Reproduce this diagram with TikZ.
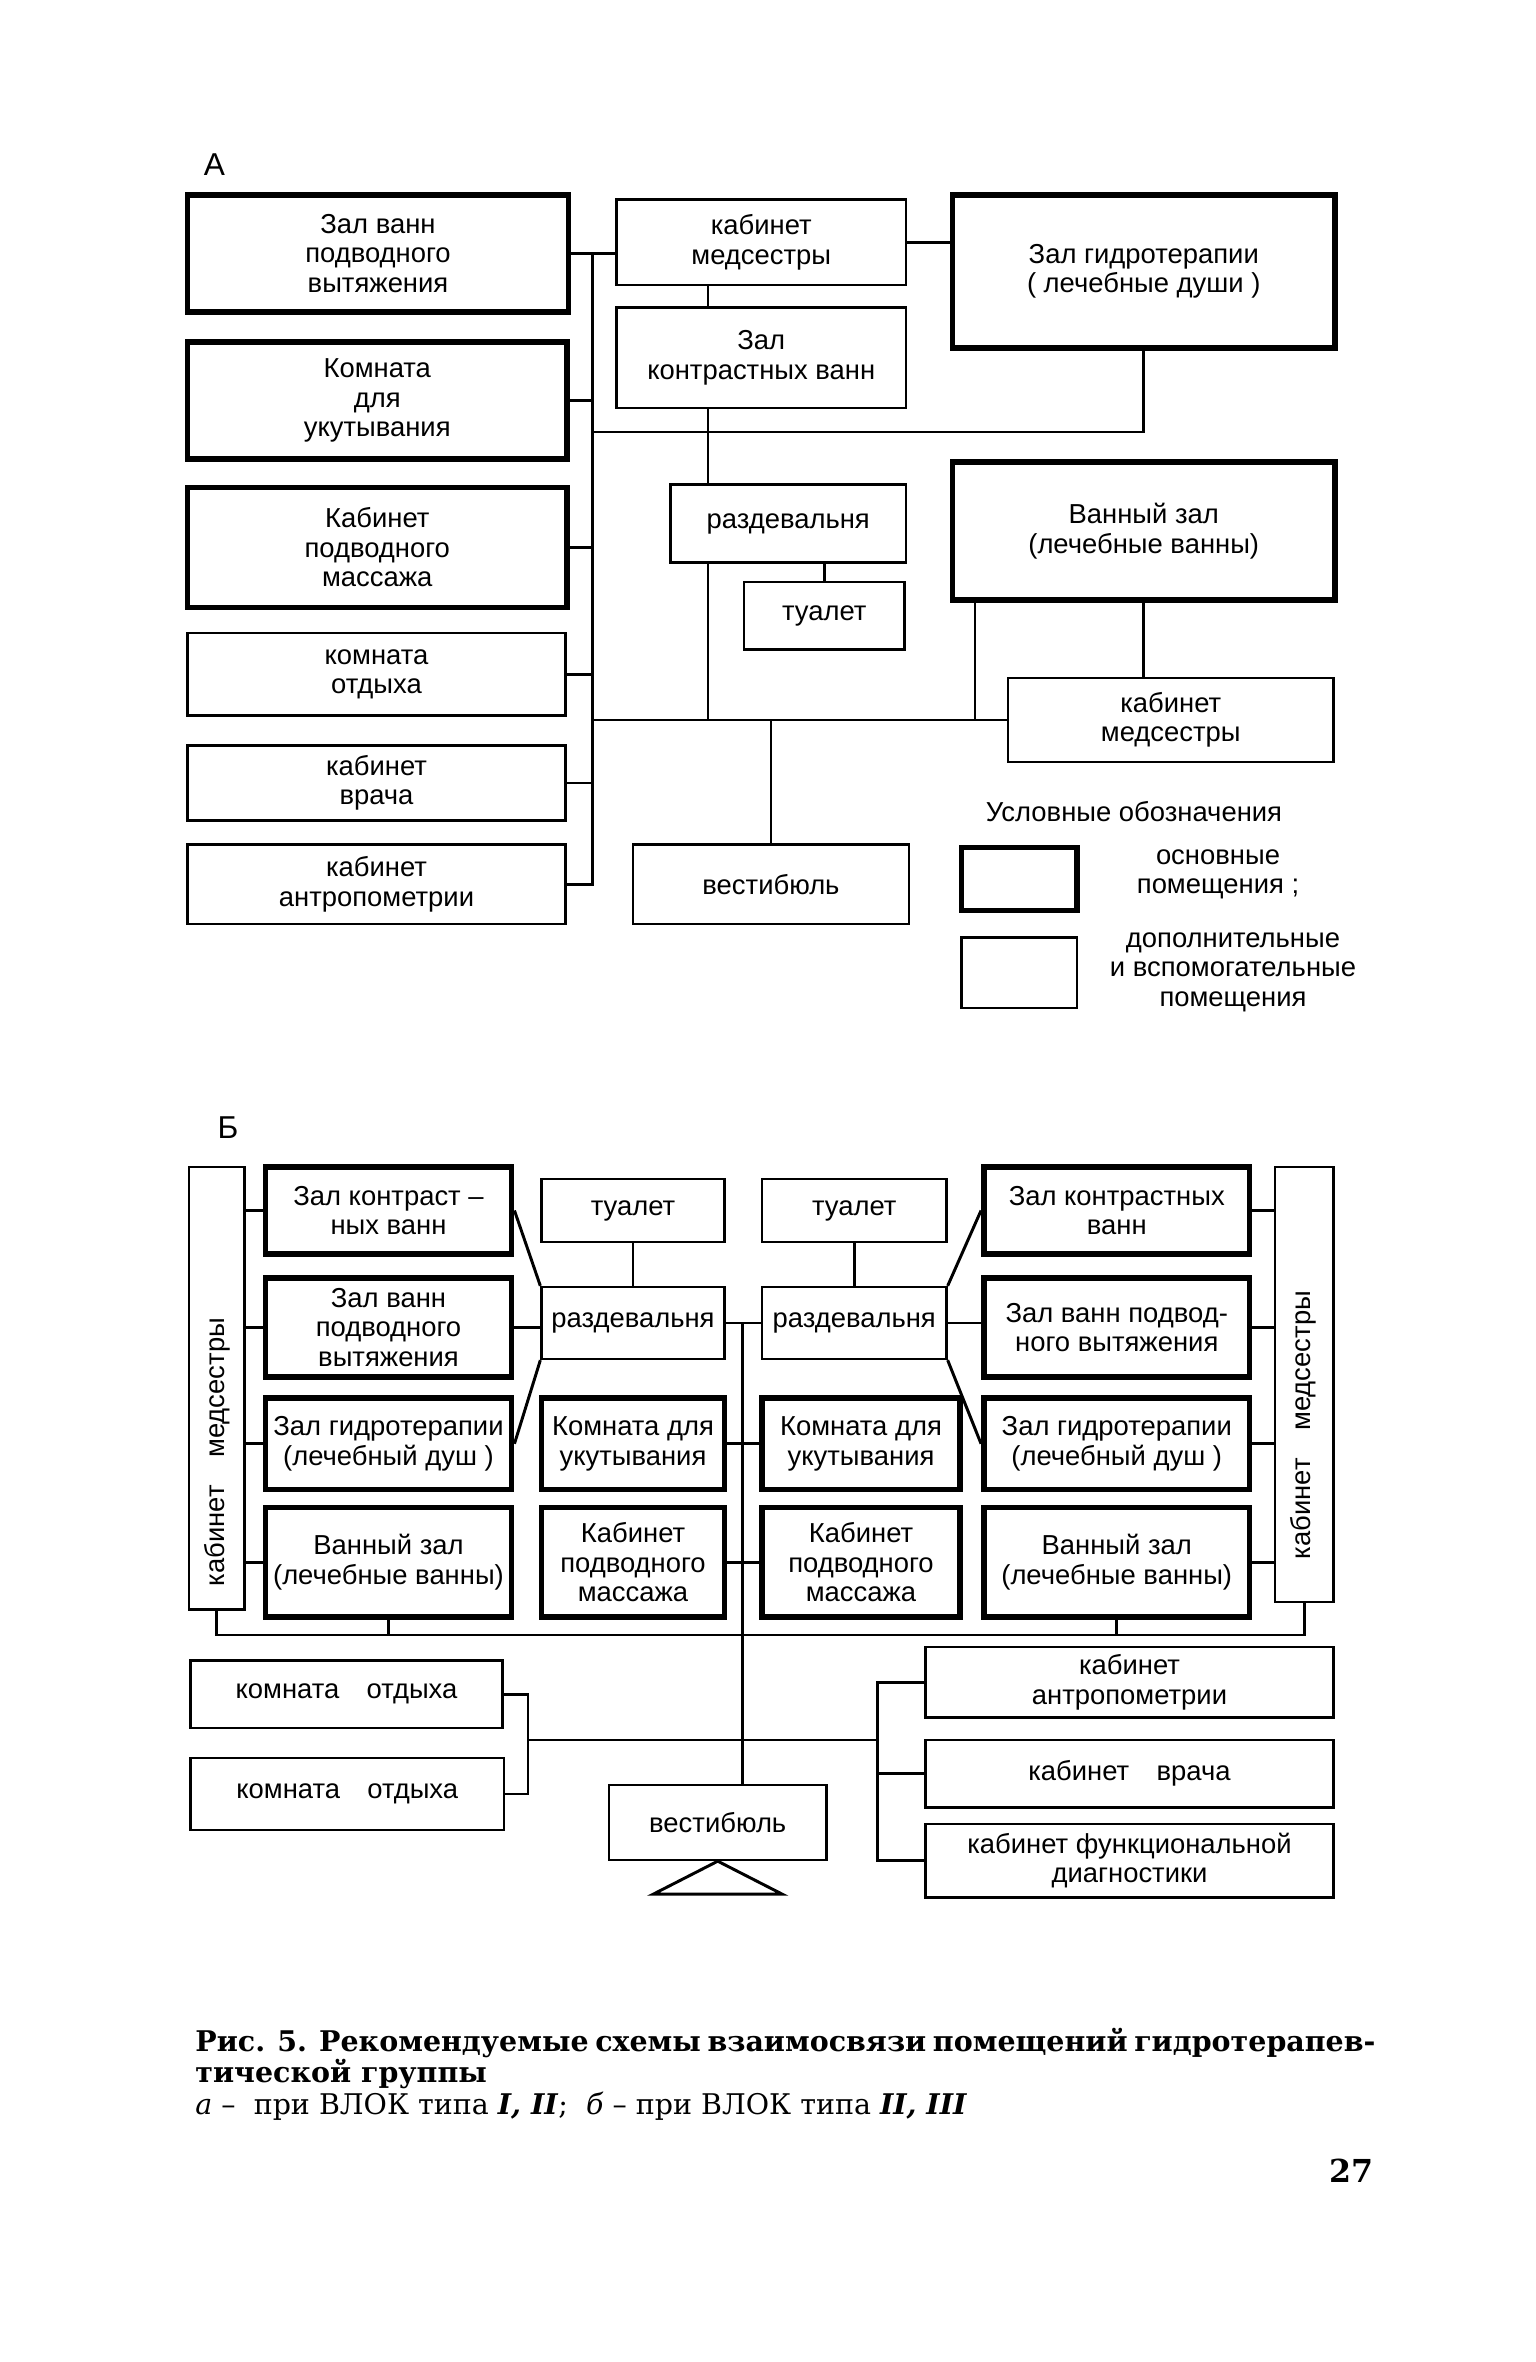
\documentclass[tikz,border=0pt]{standalone}
\usepackage{fontspec}
\setmainfont{DejaVu Serif}
\newfontfamily\draftfont{Liberation Sans}

\tikzset{
  spot/.style args={#1/#2/#3/#4}{at={({(#1+#3)/2},{(#2+#4)/2})},
    minimum width={(#3-#1)*0.025cm}, minimum height={(#4-#2)*0.025cm}},
  room/.style={draw, line width=1.1pt, inner sep=0pt, align=center,
    font=\draftfont\fontsize{13}{14}\selectfont},
  mainroom/.style={room, line width=2.8pt},
  link/.style={line width=1.4pt},
  tag/.style={font=\draftfont\fontsize{13}{14}\selectfont, align=center},
  capline/.style={anchor=west, inner sep=0pt, font=\fontsize{13.5}{16}\selectfont},
}

\begin{document}
\begin{tikzpicture}[x=0.025cm, y=-0.025cm]
  \useasboundingbox (0,0) rectangle (1024,1574.67);

  % scheme A
  \node[tag, font=\draftfont\fontsize{15}{16}\selectfont] (aTitle) at (143,110) {А};
  \node[mainroom, spot=125/130/379/208] (aVyt) {Зал ванн\\подводного\\вытяжения};
  \node[mainroom, spot=125/228/378/306] (aUkut) {Комната\\для\\укутывания};
  \node[mainroom, spot=125/325/378/405] (aMass) {Кабинет\\подводного\\массажа};
  \node[room, spot=125/422/377/477] (aOtd) {комната\\отдыха};
  \node[room, spot=125/497/377/547] (aVrach) {кабинет\\врача};
  \node[room, spot=125/563/377/616] (aAntr) {кабинет\\антропометрии};
  \node[room, spot=411/133/604/190] (aMed1) {кабинет\\медсестры};
  \node[room, spot=411/205/604/272] (aKontr) {Зал\\контрастных ванн};
  \node[room, spot=447/323/604/375] (aRazd) {раздевальня};
  \node[room, spot=496/388/603/433] (aToil) {туалет};
  \node[mainroom, spot=635/130/890/232] (aGidro) {Зал гидротерапии\\( лечебные души )};
  \node[mainroom, spot=635/308/890/400] (aVann) {Ванный зал\\(лечебные ванны)};
  \node[room, spot=672/452/889/508] (aMed2) {кабинет\\медсестры};
  \node[room, spot=422/563/606/616] (aVest) {вестибюль};

  \coordinate (aBus) at (395,0);
  \coordinate (aSpine) at (472,0);
  \coordinate (aDrop) at (650,0);
  \coordinate (aMidH) at (0,288);

  \draw[link] (aVyt.east) -- (aVyt.east -| aMed1.west);
  \draw[link] (aVyt.east -| aBus) |- (aAntr.east);
  \foreach \n in {aUkut, aMass, aOtd, aVrach}
    \draw[link] (\n.east) -- (\n.east -| aBus);
  \draw[link] (aMed1.east) -- (aMed1.east -| aGidro.west);
  \draw[link] (aMed1.south -| aSpine) -- (aKontr.north -| aSpine);
  \draw[link] (aKontr.south -| aSpine) -- (aRazd.north -| aSpine);
  \draw[link] (aGidro.south) |- (aMidH -| aBus);
  \draw[link] (aRazd.south -| aToil.north) -- (aToil.north);
  \draw[link] (aRazd.south -| aSpine) -- (aSpine |- aMed2.west);
  \draw[link] (aMed2.west) -- (aMed2.west -| aBus);
  \draw[link] (aVann.south -| aDrop) -- (aDrop |- aMed2.west);
  \draw[link] (aVann.south) -- (aVann.south |- aMed2.north);
  \draw[link] (aVest.north) -- (aVest.north |- aMed2.west);

  % legend
  \node[tag] (legTitle) at (756,541) {Условные обозначения};
  \node[mainroom, spot=641/565/718/607] (legMain) {};
  \node[room, spot=641/625/718/672] (legAux) {};
  \node[tag] (legMainTxt) at (812,583) {основные\\помещения ;};
  \node[tag] (legAuxTxt) at (822,648) {дополнительные\\и вспомогательные\\помещения};

  % scheme B
  \node[tag, font=\draftfont\fontsize{15}{16}\selectfont] (bTitle) at (152,752) {Б};
  \node[room, spot=126/778/163/1073] (bLMed) {};
  \node[tag, rotate=90] (bLMedTxt) at (145,968) {кабинет\quad медсестры};
  \node[mainroom, spot=177/778/341/836] (bLKontr) {Зал контраст –\\ных ванн};
  \node[mainroom, spot=177/852/341/918] (bLVyt) {Зал ванн\\подводного\\вытяжения};
  \node[mainroom, spot=177/932/341/993] (bLGidro) {Зал гидротерапии\\(лечебный душ )};
  \node[mainroom, spot=177/1005/341/1078] (bLVann) {Ванный зал\\(лечебные ванны)};
  \node[room, spot=361/786/483/828] (bToil1) {туалет};
  \node[room, spot=508/786/631/828] (bToil2) {туалет};
  \node[room, spot=361/858/483/906] (bRazd1) {раздевальня};
  \node[room, spot=508/858/631/906] (bRazd2) {раздевальня};
  \node[mainroom, spot=361/932/483/993] (bUkut1) {Комната для\\укутывания};
  \node[mainroom, spot=508/932/640/993] (bUkut2) {Комната для\\укутывания};
  \node[mainroom, spot=361/1005/483/1078] (bMass1) {Кабинет\\подводного\\массажа};
  \node[mainroom, spot=508/1005/640/1078] (bMass2) {Кабинет\\подводного\\массажа};
  \node[mainroom, spot=656/778/833/836] (bRKontr) {Зал контрастных\\ванн};
  \node[mainroom, spot=656/852/833/918] (bRVyt) {Зал ванн подвод-\\ного вытяжения};
  \node[mainroom, spot=656/932/833/993] (bRGidro) {Зал гидротерапии\\(лечебный душ )};
  \node[mainroom, spot=656/1005/833/1078] (bRVann) {Ванный зал\\(лечебные ванны)};
  \node[room, spot=850/778/889/1068] (bRMed) {};
  \node[tag, rotate=90] (bRMedTxt) at (869,950) {кабинет\quad медсестры};
  \node[room, spot=127/1107/335/1152] (bOtd1) {комната\quad отдыха};
  \node[room, spot=127/1172/336/1220] (bOtd2) {комната\quad отдыха};
  \node[room, spot=617/1098/889/1145] (bAntr) {кабинет\\антропометрии};
  \node[room, spot=617/1160/889/1205] (bVrach) {кабинет\quad врача};
  \node[room, spot=617/1216/889/1265] (bDiag) {кабинет функциональной\\диагностики};
  \node[room, spot=406/1190/551/1240] (bVest) {вестибюль};

  \coordinate (bLow) at (0,1090);
  \coordinate (bMid) at (495,0);
  \coordinate (bRest) at (352,0);
  \coordinate (bSide) at (585,0);
  \coordinate (bHall) at (0,1160);

  \foreach \n in {bLKontr, bLVyt, bLGidro, bLVann}
    \draw[link] (\n.west) -- (\n.west -| bLMed.east);
  \foreach \n in {bRKontr, bRVyt, bRGidro, bRVann}
    \draw[link] (\n.east) -- (\n.east -| bRMed.west);
  \draw[link] (bLMed.south) -- (bLMed.south |- bLow) -- (bRMed.south |- bLow) -- (bRMed.south);
  \draw[link] (bLVann.south) -- (bLVann.south |- bLow);
  \draw[link] (bRVann.south) -- (bRVann.south |- bLow);
  \draw[link] (bLKontr.east) -- (bRazd1.north west);
  \draw[link] (bLVyt.east) -- (bLVyt.east -| bRazd1.west);
  \draw[link] (bLGidro.east) -- (bRazd1.south west);
  \draw[link] (bRazd2.north east) -- (bRKontr.west);
  \draw[link] (bRazd2.east) -- (bRazd2.east -| bRVyt.west);
  \draw[link] (bRazd2.south east) -- (bRGidro.west);
  \draw[link] (bToil1.south) -- (bRazd1.north);
  \draw[link] (bToil2.south) -- (bRazd2.north);
  \draw[link] (bRazd1.east) -- (bRazd2.west);
  \draw[link] (bMid |- bRazd1.east) -- (bMid |- bVest.north);
  \draw[link] (bUkut1.east) -- (bUkut2.west);
  \draw[link] (bMass1.east) -- (bMass2.west);
  \draw[link] (bOtd1.east) -- (bOtd1.east -| bRest) -- (bOtd2.east -| bRest) -- (bOtd2.east);
  \draw[link] (bRest |- bHall) -- (bSide |- bHall);
  \draw[link] (bAntr.west) -- (bAntr.west -| bSide) -- (bDiag.west -| bSide) -- (bDiag.west);
  \draw[link] (bVrach.west) -- (bVrach.west -| bSide);
  \draw[link] (bVest.south) -- ++(-43,22) -- ++(86,0) -- cycle;

  % caption
  \node[capline] (cap1) at (130,1362)
    {\bfseries\makebox[19.55cm][s]{Рис. 5. Рекомендуемые схемы взаимосвязи помещений гидротерапев-}};
  \node[capline] (cap2) at (130,1383) {\bfseries тической группы};
  \node[capline] (cap3) at (130,1404)
    {\textit{а} – \ при ВЛОК типа \textit{\bfseries I, II};\ \ \textit{б} – при ВЛОК типа \textit{\bfseries II, III}};
  \node[capline, font=\bfseries\fontsize{15}{17}\selectfont] (page) at (886,1447) {27};
\end{tikzpicture}
\end{document}
